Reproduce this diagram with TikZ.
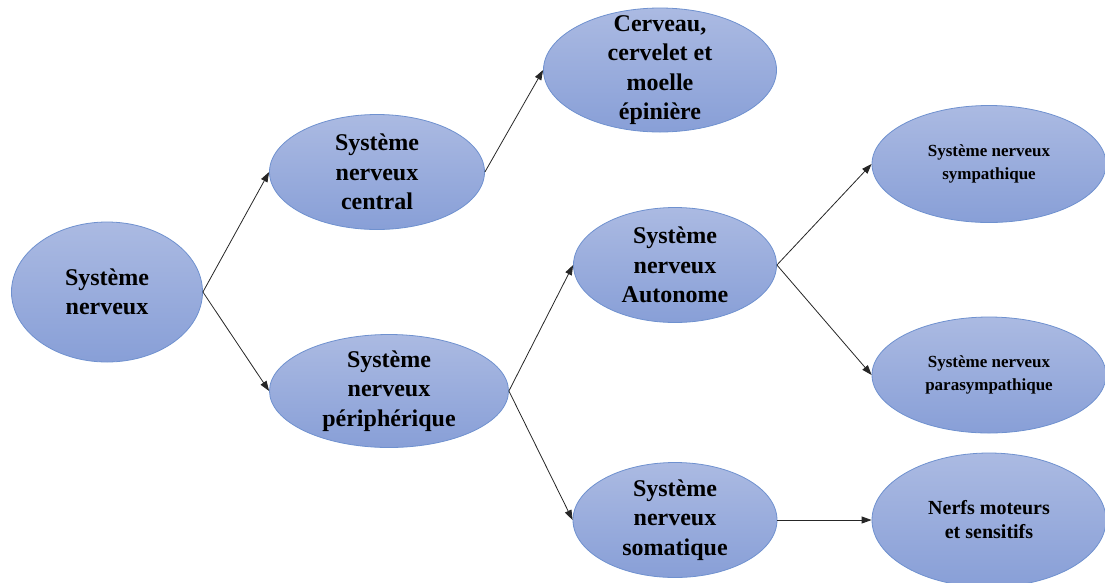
\documentclass[tikz,border=0pt]{standalone}
\usepackage{fontspec}
\setmainfont{Liberation Serif}
\usetikzlibrary{shapes.geometric,arrows.meta}
\definecolor{blobtop}{HTML}{ABBAE2}
\definecolor{blobbot}{HTML}{889FD7}
\definecolor{blobline}{HTML}{6F91CF}
\tikzset{
  blob/.style={ellipse,draw=blobline,thick,top color=blobtop,bottom color=blobbot,inner sep=0pt},
  bigtxt/.style={align=center,font=\fontsize{24}{29.5}\selectfont\bfseries},
  midtxt/.style={align=center,font=\fontsize{20}{24}\selectfont\bfseries},
  smalltxt/.style={align=center,font=\fontsize{17}{23}\selectfont\bfseries},
  link/.style={-{Triangle[length=10pt,width=7pt]},line width=0.8pt,black!85}
}
\begin{document}
\begin{tikzpicture}[x=1pt,y=-1pt]
  \useasboundingbox (0,0) rectangle (1105,582);
  % ellipses
  \node[blob,minimum width=191pt,minimum height=140pt] (sn) at (107,292) {};
  \node[blob,minimum width=215pt,minimum height=115pt] (snc) at (377,172) {};
  \node[blob,minimum width=239pt,minimum height=113pt] (snp) at (389,391) {};
  \node[blob,minimum width=233pt,minimum height=124pt] (cerveau) at (660,70) {};
  \node[blob,minimum width=203pt,minimum height=115pt] (sna) at (675,265) {};
  \node[blob,minimum width=204pt,minimum height=115pt] (sns) at (675,520) {};
  \node[blob,minimum width=234pt,minimum height=117pt] (symp) at (989,164) {};
  \node[blob,minimum width=234pt,minimum height=116pt] (para) at (989,375) {};
  \node[blob,minimum width=234pt,minimum height=134pt] (nerfs) at (989,520) {};
  % texts
  \node[bigtxt] (sn-t) at (sn) {Système\\nerveux};
  \node[bigtxt] (snc-t) at (snc) {Système\\nerveux\\central};
  \node[bigtxt] (snp-t) at (snp) {Système\\nerveux\\périphérique};
  \node[bigtxt] (cerveau-t) at (cerveau) {Cerveau,\\cervelet et\\moelle\\épinière};
  \node[bigtxt] (sna-t) at (sna) {Système\\nerveux\\Autonome};
  \node[bigtxt] (sns-t) at (sns) {Système\\nerveux\\somatique};
  \node[smalltxt] (symp-t) at (symp) {Système nerveux\\sympathique};
  \node[smalltxt] (para-t) at (para) {Système nerveux\\parasympathique};
  \node[midtxt] (nerfs-t) at (nerfs) {Nerfs moteurs\\et sensitifs};
  % arrows
  \draw[link] (sn.east) -- (snc.west);
  \draw[link] (sn.east) -- (snp.west);
  \draw[link] (snc.east) -- (cerveau.west);
  \draw[link] (snp.east) -- (sna.west);
  \draw[link] (snp.east) -- (sns.west);
  \draw[link] (sna.east) -- (symp.west);
  \draw[link] (sna.east) -- (para.west);
  \draw[link] (sns.east) -- (nerfs.west);
\end{tikzpicture}
\end{document}
